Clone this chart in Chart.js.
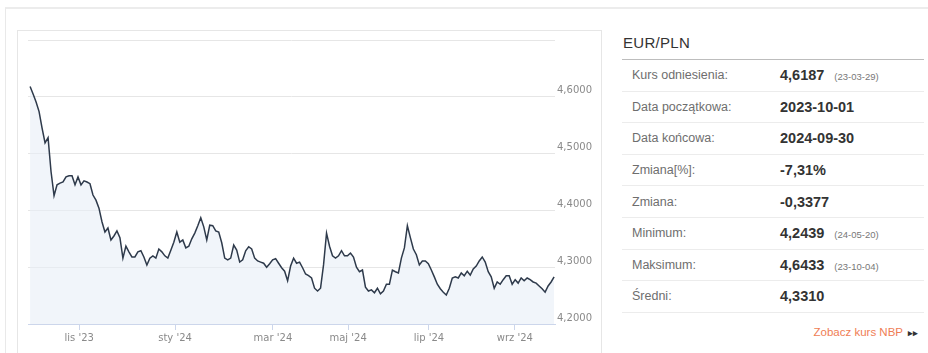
<!DOCTYPE html>
<html lang="pl">
<head>
<meta charset="utf-8">
<title>EUR/PLN</title>
<script src="https://cdn.jsdelivr.net/npm/chart.js@4.4.1/dist/chart.umd.min.js"></script>
<style>
    html, body { margin: 0; padding: 0; background: #fff; width: 928px; height: 353px; overflow: hidden; }
    body { position: relative; font-family: "Liberation Sans", Arial, sans-serif; }
    .outer { position: absolute; left: 5px; top: 7px; width: 960px; height: 400px; border: 1px solid #e9e9e9; border-top: 2px solid #ececec; }
    .chart-box { position: absolute; left: 17px; top: 30px; width: 583px; height: 400px; border: 1px solid #e6e6e6; }
    #chart-wrap { position: absolute; left: 18px; top: 31px; width: 582px; height: 322px; }
    .panel { position: absolute; left: 622px; top: 0; width: 302px; }
    .panel h3 { position: absolute; left: 1px; top: 34px; margin: 0; font-size: 15px; font-weight: normal; color: #333; letter-spacing: 0.3px; white-space: nowrap; }
    .panel table { position: absolute; left: 0; top: 59px; width: 302px; border-collapse: collapse; border-top: 1px solid #bdbdbd; }
    .panel td { height: 30.6px; padding: 0; border-bottom: 1px solid #ececec; white-space: nowrap; }
    .panel td.lbl { padding-left: 10px; width: 148px; font-size: 12.5px; color: #6e6e6e; }
    .panel td.val { font-size: 14.5px; font-weight: bold; color: #333; }
    .panel td.val small { font-size: 9.5px; font-weight: normal; color: #777; margin-left: 10px; }
    .more { position: absolute; right: 10px; top: 326px; font-size: 11.5px; color: #ef7d55; white-space: nowrap; }
    .more b { color: #333; font-size: 9px; margin-left: 2px; }
</style>
</head>
<body>
<div class="outer"></div>
<div class="chart-box"></div>
<div id="chart-wrap"><canvas id="kurs" width="582" height="322"></canvas></div>

<div class="panel">
    <h3>EUR/PLN</h3>
    <table id="stats"></table>
</div>
<div class="more">Zobacz kurs NBP <b>&#9656;&#9656;</b></div>

<script>
// kurs EUR/PLN, notowania 2023-10-01 .. 2024-09-30
const rates = [
    4.618, 4.605, 4.591, 4.574, 4.545, 4.519, 4.528, 4.468, 4.426, 4.445,
    4.448, 4.450, 4.459, 4.461, 4.461, 4.445, 4.459, 4.445, 4.452, 4.450,
    4.447, 4.427, 4.418, 4.404, 4.380, 4.362, 4.369, 4.348, 4.355, 4.364,
    4.352, 4.316, 4.337, 4.327, 4.318, 4.318, 4.327, 4.329, 4.318, 4.304,
    4.316, 4.320, 4.316, 4.332, 4.327, 4.320, 4.316, 4.330, 4.344, 4.362,
    4.344, 4.348, 4.334, 4.337, 4.350, 4.360, 4.373, 4.387, 4.371, 4.348,
    4.374, 4.373, 4.364, 4.362, 4.343, 4.316, 4.313, 4.316, 4.339, 4.330,
    4.309, 4.313, 4.329, 4.336, 4.332, 4.316, 4.311, 4.309, 4.307, 4.300,
    4.306, 4.313, 4.315, 4.307, 4.299, 4.293, 4.276, 4.302, 4.316, 4.307,
    4.309, 4.299, 4.288, 4.285, 4.281, 4.263, 4.258, 4.263, 4.304, 4.360,
    4.337, 4.320, 4.316, 4.320, 4.329, 4.320, 4.320, 4.325, 4.318, 4.300,
    4.292, 4.295, 4.265, 4.258, 4.260, 4.255, 4.263, 4.253, 4.258, 4.270,
    4.270, 4.295, 4.292, 4.290, 4.316, 4.334, 4.373, 4.352, 4.332, 4.322,
    4.304, 4.311, 4.311, 4.306, 4.295, 4.283, 4.270, 4.262, 4.256, 4.251,
    4.263, 4.281, 4.283, 4.281, 4.290, 4.285, 4.293, 4.286, 4.297, 4.302,
    4.311, 4.318, 4.309, 4.292, 4.283, 4.263, 4.274, 4.270, 4.278, 4.285,
    4.285, 4.270, 4.278, 4.272, 4.281, 4.276, 4.281, 4.278, 4.274, 4.272,
    4.267, 4.262, 4.256, 4.267, 4.274, 4.283
];

// etykiety miesięcy i ich pozycje na osi (numer notowania)
const monthLabels = ["lis '23", "sty '24", "mar '24", "maj '24", "lip '24", "wrz '24"];
const monthTicks = [16.4, 48.4, 81.1, 106.2, 133.2, 161.9];

const yTicks = [4.2, 4.3, 4.4, 4.5, 4.6, 4.7];

// tabelka obok wykresu
const statLabels = ['Kurs odniesienia:', 'Data początkowa:', 'Data końcowa:', 'Zmiana[%]:', 'Zmiana:', 'Minimum:', 'Maksimum:', 'Średni:'];
const statValues = ['4,6187', '2023-10-01', '2024-09-30', '-7,31%', '-0,3377', '4,2439', '4,6433', '4,3310'];
const statDates = ['(23-03-29)', '', '', '', '', '(24-05-20)', '(23-10-04)', ''];

const table = document.getElementById('stats');
statLabels.forEach(function (label, i) {
    const tr = document.createElement('tr');
    tr.innerHTML = '<td class="lbl">' + label + '</td><td class="val">' + statValues[i] +
        (statDates[i] ? '<small>' + statDates[i] + '</small>' : '') + '</td>';
    table.appendChild(tr);
});

const axisFont = { family: 'DejaVu Sans', size: 10 };

new Chart(document.getElementById('kurs'), {
    type: 'line',
    data: {
        datasets: [{
            data: rates.map(function (v, i) { return { x: i, y: v }; }),
            borderColor: '#2e3a4b',
            borderWidth: 1.5,
            backgroundColor: 'rgba(232, 238, 246, 0.6)',
            fill: 'start',
            pointRadius: 0,
            tension: 0
        }]
    },
    options: {
        responsive: false,
        animation: false,
        layout: { padding: { left: 10, top: 9, right: 0, bottom: 0 } },
        plugins: {
            legend: { display: false },
            tooltip: { enabled: false }
        },
        scales: {
            x: {
                type: 'linear',
                min: -0.7,
                max: rates.length - 0.7,
                afterBuildTicks: function (scale) {
                    scale.ticks = monthTicks.map(function (v) { return { value: v }; });
                },
                afterFit: function (scale) { scale.height = 29; },
                ticks: {
                    autoSkip: false,
                    maxRotation: 0,
                    padding: 2,
                    color: '#8a8a8a',
                    font: axisFont,
                    callback: function (value, index) { return monthLabels[index]; }
                },
                grid: {
                    drawOnChartArea: false,
                    drawTicks: true,
                    tickLength: 6,
                    color: '#ccd6eb'
                },
                border: { display: true, color: '#ccd6eb' }
            },
            y: {
                position: 'right',
                min: 4.2,
                max: 4.7,
                afterBuildTicks: function (scale) {
                    scale.ticks = yTicks.map(function (v) { return { value: v }; });
                },
                afterFit: function (scale) { scale.width = 45; },
                ticks: {
                    padding: 2,
                    labelOffset: -6,
                    color: '#8a8a8a',
                    font: axisFont,
                    callback: function (value) {
                        if (Math.abs(value - 4.7) < 1e-6) return '';
                        return value.toFixed(4).replace('.', ',');
                    }
                },
                grid: {
                    color: '#e6e6e6',
                    drawTicks: false
                },
                border: { display: false }
            }
        }
    }
});
</script>
</body>
</html>
